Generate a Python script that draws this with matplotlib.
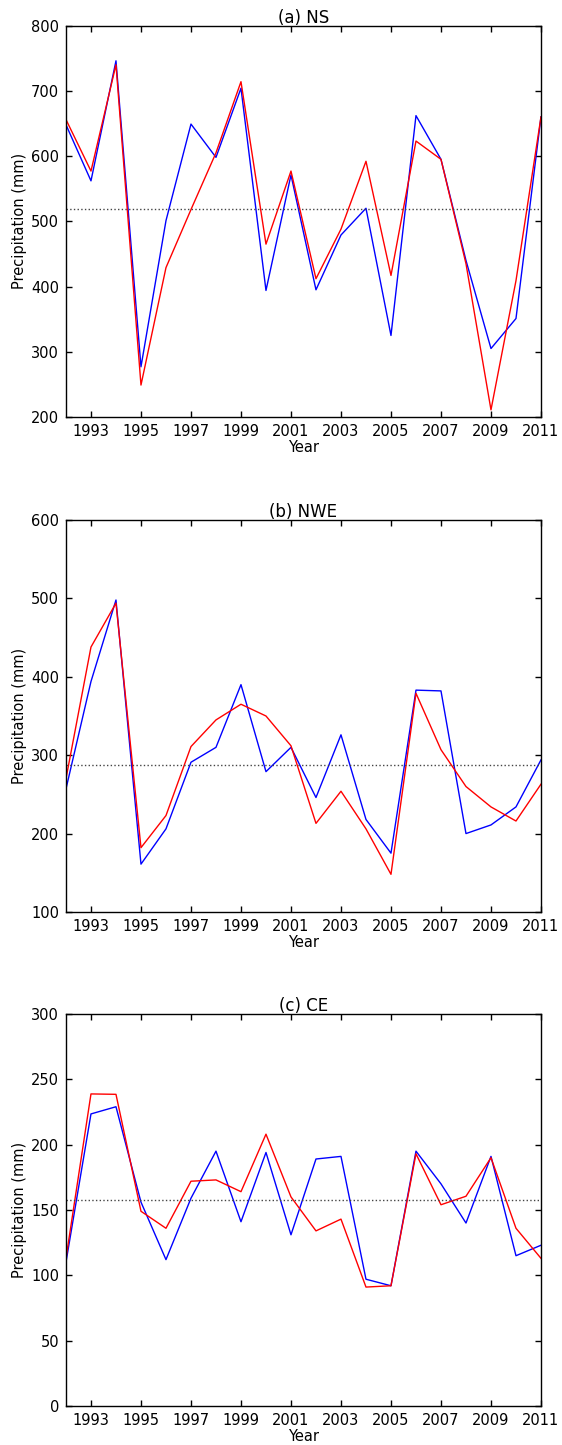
import numpy as np
import matplotlib
matplotlib.use("Agg")
import matplotlib.pyplot as plt

years = np.arange(1992, 2012)

# (a) NS
ns_red = [656, 577, 740, 249, 429, 518, 605, 714, 465, 577,
          412, 488, 592, 417, 623, 595, 435, 211, 409, 660]
ns_blue = [648, 562, 746, 277, 501, 649, 598, 704, 394, 571,
           395, 479, 520, 325, 662, 595, 440, 305, 351, 660]
ns_mean = 519

# (b) NWE
nwe_red = [270, 438, 494, 182, 223, 311, 345, 365, 350, 312,
           213, 254, 206, 148, 379, 307, 260, 234, 216, 263]
nwe_blue = [257, 394, 498, 161, 206, 291, 310, 390, 279, 310,
            246, 326, 218, 175, 383, 382, 200, 211, 234, 294]
nwe_mean = 288

# (c) CE
ce_red = [113, 238.8, 238.5, 149, 136, 172, 173, 164, 208, 160,
          134, 143, 91, 92, 193, 154, 160.5, 190, 136, 113]
ce_blue = [110, 223.5, 229, 156, 112, 159, 195, 141, 194, 131,
           189, 191, 97, 92, 195, 170, 140, 191, 115, 123]
ce_mean = 158

titles = ["(a) NS", "(b) NWE", "(c) CE"]
reds = [ns_red, nwe_red, ce_red]
blues = [ns_blue, nwe_blue, ce_blue]
means = [ns_mean, nwe_mean, ce_mean]
ylims = [(200, 800), (100, 600), (0, 300)]
ysteps = [100, 100, 50]

fig = plt.figure(figsize=(5.62, 14.45), dpi=100)
boxes = [(0.1174, 0.7114, 0.8452, 0.2709),
         (0.1174, 0.3689, 0.8452, 0.2712),
         (0.1174, 0.0270, 0.8452, 0.2713)]

for i in range(3):
    ax = fig.add_axes(boxes[i])
    ax.plot(years, blues[i], color='blue', lw=1)
    ax.plot(years, reds[i], color='red', lw=1)
    ax.axhline(means[i], color='#444444', ls=':', lw=1)
    ax.set_xlim(1992, 2011)
    ax.set_ylim(*ylims[i])
    ax.set_xticks(np.arange(1993, 2012, 2))
    ax.set_yticks(np.arange(ylims[i][0], ylims[i][1] + 1, ysteps[i]))
    ax.tick_params(direction='in', top=True, right=True, labelsize=10.5,
                   length=4, width=1, pad=5)
    for s in ax.spines.values():
        s.set_linewidth(1)
    ax.set_title(titles[i], fontsize=12, pad=2)
    ax.set_xlabel("Year", fontsize=10.5, labelpad=1)
    ax.set_ylabel("Precipitation (mm)", fontsize=10.5, labelpad=3)

fig.savefig("out.png", dpi=100)
